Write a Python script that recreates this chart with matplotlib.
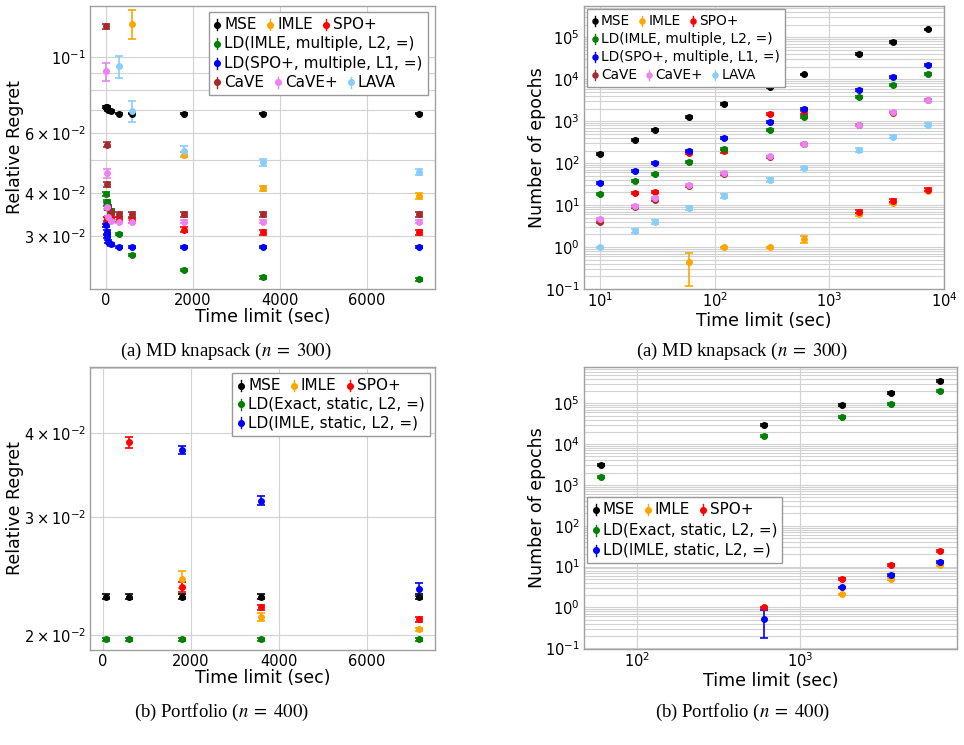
import matplotlib
matplotlib.use("Agg")
import matplotlib.pyplot as plt
from matplotlib.offsetbox import DrawingArea, TextArea, HPacker, VPacker, AnchoredOffsetbox
from matplotlib.lines import Line2D

plt.rcParams['font.family'] = ['DejaVu Sans']

# ---------------- data: (a) MD knapsack, relative regret ----------------
T_A = [10, 20, 30, 60, 120, 300, 600, 1800, 3600, 7200]
T_A_IMLE_REG = [600, 1800, 3600, 7200]
T_A_SPO = [20, 30, 60, 120, 300, 600, 1800, 3600, 7200]
T_A_LAVA_REG = [300, 600, 1800, 3600, 7200]

reg_a_mse = [0.0716, 0.0713, 0.0709, 0.0701, 0.0695, 0.0684, 0.0684, 0.0684, 0.0684, 0.0684]
reg_a_mse_err = [0.0005, 0.0005, 0.0005, 0.0005, 0.0005, 0.0004, 0.0004, 0.0004, 0.0004, 0.0004]
reg_a_imle = [0.125, 0.0519, 0.0413, 0.0393]
reg_a_imle_err = [0.012, 0.0009, 0.0006, 0.0007]
reg_a_spo = [0.0335, 0.0337, 0.0338, 0.0340, 0.0336, 0.0333, 0.0313, 0.0308, 0.0308]
reg_a_spo_err = [0.0005, 0.0005, 0.0005, 0.0005, 0.0006, 0.0006, 0.0005, 0.0005, 0.0005]
reg_a_ld1 = [0.0397, 0.0378, 0.0372, 0.0365, 0.0355, 0.0304, 0.0264, 0.0239, 0.0227, 0.0224]
reg_a_ld1_err = [0.0005, 0.0005, 0.0006, 0.0005, 0.0004, 0.0003, 0.0002, 0.0002, 0.0002, 0.0002]
reg_a_ld2 = [0.0322, 0.0309, 0.0299, 0.0289, 0.0284, 0.0279, 0.0279, 0.0279, 0.0279, 0.0279]
reg_a_ld2_err = [0.0004, 0.0004, 0.0003, 0.0003, 0.0003, 0.0002, 0.0002, 0.0002, 0.0002, 0.0002]
reg_a_cave = [0.1229, 0.0555, 0.0425, 0.0362, 0.0353, 0.0347, 0.0347, 0.0347, 0.0347, 0.0347]
reg_a_cave_err = [0.0020, 0.0008, 0.0007, 0.0005, 0.0005, 0.0005, 0.0005, 0.0005, 0.0005, 0.0005]
reg_a_cavep = [0.0908, 0.0457, 0.0365, 0.0340, 0.0332, 0.0330, 0.0330, 0.0330, 0.0330, 0.0330]
reg_a_cavep_err = [0.0055, 0.0013, 0.0006, 0.0004, 0.0003, 0.0003, 0.0003, 0.0003, 0.0003, 0.0003]
reg_a_lava = [0.0939, 0.0695, 0.0532, 0.0492, 0.0462]
reg_a_lava_err = [0.0071, 0.0048, 0.0017, 0.0010, 0.0009]

# ---------------- data: (a) MD knapsack, number of epochs ----------------
T_A_IMLE_EP = [60, 120, 300, 600, 1800, 3600, 7200]
ep_a_mse = [168, 362, 607, 1280, 2570, 6530, 13100, 39400, 77300, 155000]
ep_a_mse_err = [8, 18, 30, 60, 120, 300, 600, 1800, 3500, 7000]
ep_a_imle = [0.43, 1.0, 1.0, 1.55, 6.0, 11.0, 22.0]
ep_a_imle_err = [0.31, 0.03, 0.03, 0.33, 0.4, 0.6, 1.0]
ep_a_spo = [19.5, 21, 175, 190, 1510, 1600, 7.0, 12.7, 23.5]
ep_a_spo_err = [1.0, 1.2, 12, 14, 90, 110, 0.6, 1.0, 1.5]
ep_a_ld1 = [18, 37.5, 56, 105, 217, 617, 1240, 3720, 7300, 13300]
ep_a_ld1_err = [1.0, 2.0, 3.0, 5.5, 12, 32, 65, 190, 370, 670]
ep_a_ld2 = [33, 66, 99, 195, 398, 960, 1950, 5640, 11300, 22200]
ep_a_ld2_err = [1.7, 3.4, 5.0, 10, 20, 50, 100, 290, 570, 1100]
ep_a_cave = [4.0, 8.9, 13.2, 28, 55, 140, 280, 800, 1600, 3150]
ep_a_cave_err = [0.2, 0.4, 0.6, 1.3, 2.5, 6, 12, 35, 70, 140]
ep_a_cavep = [4.7, 9.5, 14.5, 30, 59, 145, 286, 826, 1630, 3200]
ep_a_cavep_err = [0.3, 0.5, 0.8, 1.6, 3.0, 7, 14, 40, 80, 150]
ep_a_lava = [1.0, 2.37, 3.9, 8.5, 16.5, 40, 75, 209, 428, 826]
ep_a_lava_err = [0.03, 0.25, 0.4, 0.8, 1.6, 3.5, 8, 20, 40, 75]

# ---------------- data: (b) Portfolio ----------------
T_B = [60, 600, 1800, 3600, 7200]
T_B_IMLE_REG = [1800, 3600, 7200]
T_B_SPO = [600, 1800, 3600, 7200]
T_B_LD2_REG = [1800, 3600, 7200]
T_B_IMLE_EP = [1800, 3600, 7200]
T_B_LD2_EP = [600, 1800, 3600, 7200]

reg_b_mse = [0.0228, 0.0228, 0.0228, 0.0228, 0.0228]
reg_b_mse_err = [0.0002, 0.0002, 0.0002, 0.0002, 0.0002]
reg_b_imle = [0.0242, 0.0213, 0.0204]
reg_b_imle_err = [0.0007, 0.0003, 0.0001]
reg_b_spo = [0.0387, 0.0236, 0.0220, 0.0211]
reg_b_spo_err = [0.0007, 0.0004, 0.0002, 0.0002]
reg_b_ld1 = [0.0197, 0.0197, 0.0197, 0.0197, 0.0197]
reg_b_ld1_err = [0.0001, 0.0001, 0.0001, 0.0001, 0.0001]
reg_b_ld2 = [0.0377, 0.0317, 0.0234]
reg_b_ld2_err = [0.0005, 0.0005, 0.0005]

ep_b_mse = [3130, 29900, 90800, 179000, 358000]
ep_b_mse_err = [150, 1500, 4500, 9000, 18000]
ep_b_imle = [2.08, 4.94, 11.1]
ep_b_imle_err = [0.1, 0.25, 0.5]
ep_b_spo = [1.0, 5.0, 11.1, 23.6]
ep_b_spo_err = [0.05, 0.25, 0.5, 1.2]
ep_b_ld1 = [1540, 15500, 47000, 96100, 197000]
ep_b_ld1_err = [80, 800, 2300, 4800, 9800]
ep_b_ld2 = [0.52, 3.09, 6.1, 13.0]
ep_b_ld2_err = [0.345, 0.15, 0.3, 0.6]

# ---------------- labels / colors ----------------
C = {'MSE': 'black', 'IMLE': 'orange', 'SPO+': 'red', 'LD1': 'green', 'LD2': 'blue',
     'CaVE': 'brown', 'CaVE+': 'violet', 'LAVA': 'lightskyblue'}
LAB_A_LD1 = 'LD(IMLE, multiple, L2, =)'
LAB_A_LD2 = 'LD(SPO+, multiple, L1, =)'
LAB_B_LD1 = 'LD(Exact, static, L2, =)'
LAB_B_LD2 = 'LD(IMLE, static, L2, =)'

W, H = 964, 745
fig = plt.figure(figsize=(W / 100, H / 100), dpi=100)


def px_axes(l, t, r, b):
    return fig.add_axes([l / W, 1 - b / H, (r - l) / W, (b - t) / H])


def eb(ax, x, y, e, color):
    ax.errorbar(x, y, yerr=e, fmt='o', color=color, ms=4, elinewidth=1.2,
                capsize=3, capthick=1.2, zorder=3)


def style(ax, logx):
    ax.set_yscale('log')
    if logx:
        ax.set_xscale('log')
    ax.set_axisbelow(True)
    ax.grid(True, which='major', color='#d2d2d2', lw=0.8)
    ax.yaxis.grid(True, which='minor', color='#d2d2d2', lw=0.8)
    for s in ax.spines.values():
        s.set_color('#a0a0a0')
        s.set_linewidth(1.0)
    ax.tick_params(which='both', length=0, labelsize=10.5, pad=3, colors='black')
    ax.tick_params(axis='x', pad=2 if logx else 3)
    ax.set_xlabel('Time limit (sec)', fontsize=12.5)
    ax.xaxis.set_label_coords(0.5, -0.082 if logx else -0.066)


def add_legend(ax, rows, loc, anchor, fs, rsep):
    row_boxes = []
    for row in rows:
        items = []
        for color, label in row:
            h = fs * 0.9
            da = DrawingArea(fs * 0.45, h, 0, 0)
            da.add_artist(Line2D([fs * 0.225] * 2, [0.1 * h, 0.9 * h], color=color, lw=1.0))
            da.add_artist(Line2D([fs * 0.225], [0.5 * h], marker='o', ms=fs * 0.37,
                                 color=color, lw=0))
            ta = TextArea(label, textprops=dict(fontsize=fs, color='black'))
            items.append(HPacker(children=[da, ta], sep=fs * 0.23, align='center', pad=0))
        row_boxes.append(HPacker(children=items, sep=fs * 0.65, align='center', pad=0))
    vb = VPacker(children=row_boxes, sep=rsep, align='left', pad=0)
    ab = AnchoredOffsetbox(loc=loc, child=vb, pad=0.35, borderpad=0, frameon=True,
                           bbox_to_anchor=anchor, bbox_transform=ax.transAxes,
                           prop=dict(size=fs))
    ab.patch.set_boxstyle('square', pad=0)
    ab.patch.set_edgecolor('#999999')
    ab.patch.set_linewidth(1.0)
    ab.set_zorder(5)
    ax.add_artist(ab)


rows_a = [[(C['MSE'], 'MSE'), (C['IMLE'], 'IMLE'), (C['SPO+'], 'SPO+')],
          [(C['LD1'], LAB_A_LD1)],
          [(C['LD2'], LAB_A_LD2)],
          [(C['CaVE'], 'CaVE'), (C['CaVE+'], 'CaVE+'), (C['LAVA'], 'LAVA')]]
rows_b = [[(C['MSE'], 'MSE'), (C['IMLE'], 'IMLE'), (C['SPO+'], 'SPO+')],
          [(C['LD1'], LAB_B_LD1)],
          [(C['LD2'], LAB_B_LD2)]]

# ---- (a) regret ----
ax1 = px_axes(90, 6, 435, 289)
eb(ax1, T_A, reg_a_mse, reg_a_mse_err, C['MSE'])
eb(ax1, T_A_IMLE_REG, reg_a_imle, reg_a_imle_err, C['IMLE'])
eb(ax1, T_A_SPO, reg_a_spo, reg_a_spo_err, C['SPO+'])
eb(ax1, T_A, reg_a_ld1, reg_a_ld1_err, C['LD1'])
eb(ax1, T_A, reg_a_ld2, reg_a_ld2_err, C['LD2'])
eb(ax1, T_A, reg_a_cave, reg_a_cave_err, C['CaVE'])
eb(ax1, T_A, reg_a_cavep, reg_a_cavep_err, C['CaVE+'])
eb(ax1, T_A_LAVA_REG, reg_a_lava, reg_a_lava_err, C['LAVA'])
style(ax1, False)
ax1.set_xlim(-360, 7560)
ax1.set_ylim(0.021, 0.141)
ax1.set_xticks([0, 2000, 4000, 6000])
ax1.set_ylabel('Relative Regret', fontsize=12.5)
ax1.yaxis.set_label_coords(-0.19, 0.5)
add_legend(ax1, rows_a, 'upper right', (0.98, 0.979), 11, 3.0)

# ---- (a) epochs ----
ax2 = px_axes(584, 6, 944, 289)
eb(ax2, T_A, ep_a_mse, ep_a_mse_err, C['MSE'])
eb(ax2, T_A_IMLE_EP, ep_a_imle, ep_a_imle_err, C['IMLE'])
eb(ax2, T_A_SPO, ep_a_spo, ep_a_spo_err, C['SPO+'])
eb(ax2, T_A, ep_a_ld1, ep_a_ld1_err, C['LD1'])
eb(ax2, T_A, ep_a_ld2, ep_a_ld2_err, C['LD2'])
eb(ax2, T_A, ep_a_cave, ep_a_cave_err, C['CaVE'])
eb(ax2, T_A, ep_a_cavep, ep_a_cavep_err, C['CaVE+'])
eb(ax2, T_A, ep_a_lava, ep_a_lava_err, C['LAVA'])
style(ax2, True)
ax2.set_xlim(7.2, 10000)
ax2.set_ylim(0.1, 5.57e5)
ax2.set_ylabel('Number of epochs', fontsize=12.5)
ax2.yaxis.set_label_coords(-0.106, 0.5)
add_legend(ax2, rows_a, 'upper left', (0.008, 0.989), 9.9, 3.0)

# ---- (b) regret ----
ax3 = px_axes(90, 367, 435, 650)
eb(ax3, T_B, reg_b_mse, reg_b_mse_err, C['MSE'])
eb(ax3, T_B_IMLE_REG, reg_b_imle, reg_b_imle_err, C['IMLE'])
eb(ax3, T_B_SPO, reg_b_spo, reg_b_spo_err, C['SPO+'])
eb(ax3, T_B, reg_b_ld1, reg_b_ld1_err, C['LD1'])
eb(ax3, T_B_LD2_REG, reg_b_ld2, reg_b_ld2_err, C['LD2'])
style(ax3, False)
ax3.set_xlim(-297, 7557)
ax3.set_ylim(0.019, 0.0501)
ax3.set_xticks([0, 2000, 4000, 6000])
ax3.set_ylabel('Relative Regret', fontsize=12.5)
ax3.yaxis.set_label_coords(-0.19, 0.5)
add_legend(ax3, rows_b, 'upper right', (0.986, 0.979), 11, 2.5)

# ---- (b) epochs ----
ax4 = px_axes(584, 367, 957, 649)
eb(ax4, T_B, ep_b_mse, ep_b_mse_err, C['MSE'])
eb(ax4, T_B_IMLE_EP, ep_b_imle, ep_b_imle_err, C['IMLE'])
eb(ax4, T_B_SPO, ep_b_spo, ep_b_spo_err, C['SPO+'])
eb(ax4, T_B, ep_b_ld1, ep_b_ld1_err, C['LD1'])
eb(ax4, T_B_LD2_EP, ep_b_ld2, ep_b_ld2_err, C['LD2'])
style(ax4, True)
ax4.set_xlim(47.2, 9180)
ax4.set_ylim(0.0955, 7.76e5)
ax4.set_ylabel('Number of epochs', fontsize=12.5)
ax4.yaxis.set_label_coords(-0.102, 0.5)
add_legend(ax4, rows_b, 'upper left', (0.008, 0.539), 10.9, 3.8)

# ---- captions ----
cap_kw = dict(ha='center', va='center', fontsize=13.5, family='Liberation Serif',
              math_fontfamily='stix')
fig.text(226 / W, 1 - 351 / H, r'(a) MD knapsack ($n\;=\;300$)', **cap_kw)
fig.text(742 / W, 1 - 351 / H, r'(a) MD knapsack ($n\;=\;300$)', **cap_kw)
fig.text(221 / W, 1 - 712 / H, r'(b) Portfolio ($n\;=\;400$)', **cap_kw)
fig.text(742 / W, 1 - 712 / H, r'(b) Portfolio ($n\;=\;400$)', **cap_kw)

fig.savefig('out.png', dpi=100)
